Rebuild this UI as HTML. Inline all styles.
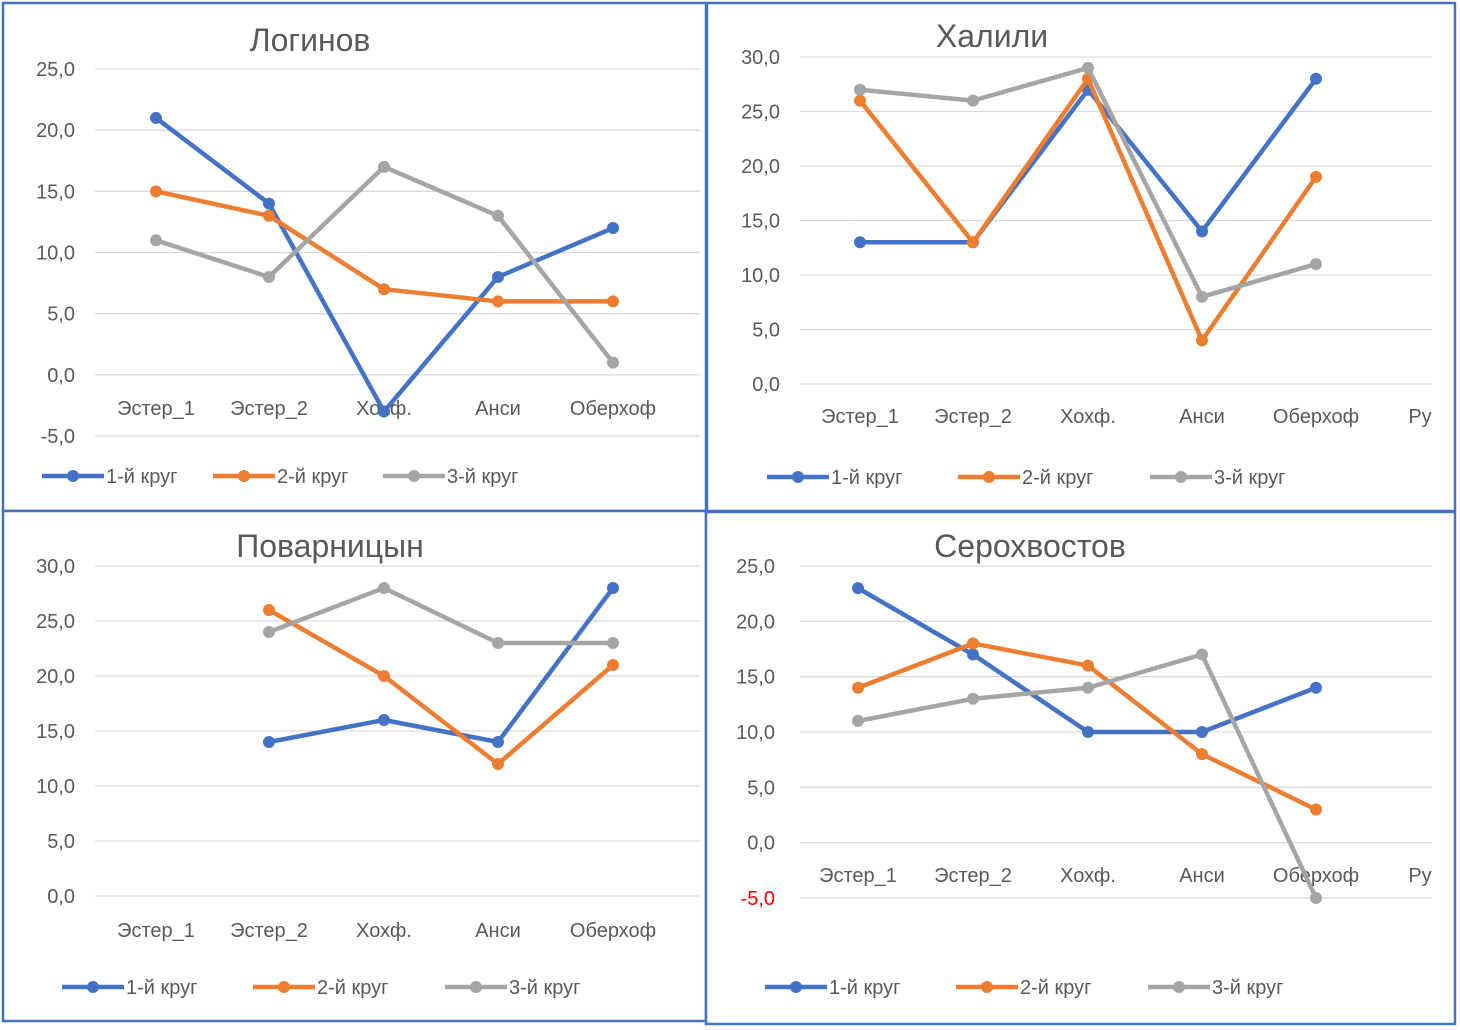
<!DOCTYPE html>
<html><head><meta charset="utf-8"><style>
html,body{margin:0;padding:0;background:#fff;}
svg{display:block;font-family:"Liberation Sans","DejaVu Sans",sans-serif;}
</style></head><body>
<svg id="root" width="1460" height="1030"></svg>
<script>
const categories = ["Эстер_1","Эстер_2","Хохф.","Анси","Оберхоф","Ру"];
const seriesNames = ["1-й круг","2-й круг","3-й круг"];
const seriesColors = ["#4472C4","#ED7D31","#A5A5A5"];
// Логинов
const loginovR1 = [21,14,-3,8,12];
const loginovR2 = [15,13,7,6,6];
const loginovR3 = [11,8,17,13,1];
const loginovTicks = [25,20,15,10,5,0,-5];
// Халили
const khaliliR1 = [13,13,27,14,28];
const khaliliR2 = [26,13,28,4,19];
const khaliliR3 = [27,26,29,8,11];
const khaliliTicks = [30,25,20,15,10,5,0];
// Поварницын
const povarR1 = [null,14,16,14,28];
const povarR2 = [null,26,20,12,21];
const povarR3 = [null,24,28,23,23];
const povarTicks = [30,25,20,15,10,5,0];
// Серохвостов
const seroR1 = [23,17,10,10,14];
const seroR2 = [14,18,16,8,3];
const seroR3 = [11,13,14,17,-5];
const seroTicks = [25,20,15,10,5,0,-5];

const NS="http://www.w3.org/2000/svg";
const root=document.getElementById('root');
function mk(tag,attrs,parent){const e=document.createElementNS(NS,tag);for(const k in attrs)e.setAttribute(k,attrs[k]);(parent||root).appendChild(e);return e;}

const panels=[
 {name:"loginov",title:"Логинов",tx:310,ty:40,box:[3,3,703,508],gx0:95,gx1:700,yTop:69,yBot:436,vTop:25,vBot:-5,catX:[156,269,384,498,613],nCat:5,labelY:408,tickX:75,series:[loginovR1,loginovR2,loginovR3],ticks:loginovTicks,legY:476,legX:[42,213,383],legW:[62,62,62]},
 {name:"khalili",title:"Халили",tx:992,ty:36,box:[707,3,748,508],gx0:800,gx1:1432,yTop:57,yBot:384,vTop:30,vBot:0,catX:[860,973,1088,1202,1316,1420],nCat:6,labelY:416,tickX:780,series:[khaliliR1,khaliliR2,khaliliR3],ticks:khaliliTicks,legY:477,legX:[767,958,1150],legW:[62,62,62]},
 {name:"povarnitsyn",title:"Поварницын",tx:330,ty:546,box:[3,511,703,510],gx0:95,gx1:700,yTop:566,yBot:896,vTop:30,vBot:0,catX:[156,269,384,498,613],nCat:5,labelY:930,tickX:75,series:[povarR1,povarR2,povarR3],ticks:povarTicks,legY:987,legX:[62,253,445],legW:[62,62,62]},
 {name:"serokhvostov",title:"Серохвостов",tx:1030,ty:546,box:[706,512,749,512],gx0:800,gx1:1432,yTop:566,yBot:898,vTop:25,vBot:-5,catX:[858,973,1088,1202,1316,1420],nCat:6,labelY:875,tickX:775,series:[seroR1,seroR2,seroR3],ticks:seroTicks,legY:987,legX:[765,956,1148],legW:[62,62,62]}
];

panels.forEach(p=>{
 const g=mk('g',{});
 
 
 const r=mk('rect',{x:p.box[0],y:p.box[1],width:p.box[2],height:p.box[3],fill:'#fff',stroke:'#4472C4','stroke-width':2.5},g);
 
 
 const yS=v=>p.yTop+(p.vTop-v)*(p.yBot-p.yTop)/(p.vTop-p.vBot);
 p.ticks.forEach(t=>{
  const y=yS(t);
  const l=mk('line',{x1:p.gx0,x2:p.gx1,y1:y,y2:y,stroke:'#D9D9D9','stroke-width':1.3},g);
  
  
  const tx=mk('text',{x:p.tickX,y:y+7,'text-anchor':'end','font-size':20,fill:(t<0&&p.name==='serokhvostov')?'#FF0000':'#595959'},g);
  tx.textContent=t.toFixed(1).replace('.',',');
  
  
 });
 for(let i=0;i<p.nCat;i++){
  const c=mk('text',{x:p.catX[i],y:p.labelY+7,'text-anchor':'middle','font-size':20,fill:'#595959'},g);
  c.textContent=categories[i];
  
  
 }
 const ti=mk('text',{x:p.tx,y:p.ty+11,'text-anchor':'middle','font-size':32,fill:'#595959'},g);
 ti.textContent=p.title;
 
 
 p.series.forEach((s,si)=>{
  let d='';let pen=false;
  s.forEach((v,i)=>{ if(v===null){pen=false;return;} d+=(pen?'L':'M')+p.catX[i]+','+yS(v)+' '; pen=true;});
  const path=mk('path',{d:d,fill:'none',stroke:seriesColors[si],'stroke-width':4.5,'stroke-linejoin':'round','stroke-linecap':'round'},g);
  
  
  s.forEach((v,i)=>{ if(v===null)return;
   const c=mk('circle',{cx:p.catX[i],cy:yS(v),r:6,fill:seriesColors[si]},g);
   
   
  });
  const lx=p.legX[si];
  const ll=mk('line',{x1:lx,x2:lx+p.legW[si],y1:p.legY,y2:p.legY,stroke:seriesColors[si],'stroke-width':4.5},g);
  
  
  const lc=mk('circle',{cx:lx+p.legW[si]/2,cy:p.legY,r:6,fill:seriesColors[si]},g);
  
  
  const lt=mk('text',{x:lx+p.legW[si]+2,y:p.legY+7,'font-size':20,fill:'#595959'},g);
  lt.textContent=seriesNames[si];
  
  
 });
});
</script>
</body></html>
